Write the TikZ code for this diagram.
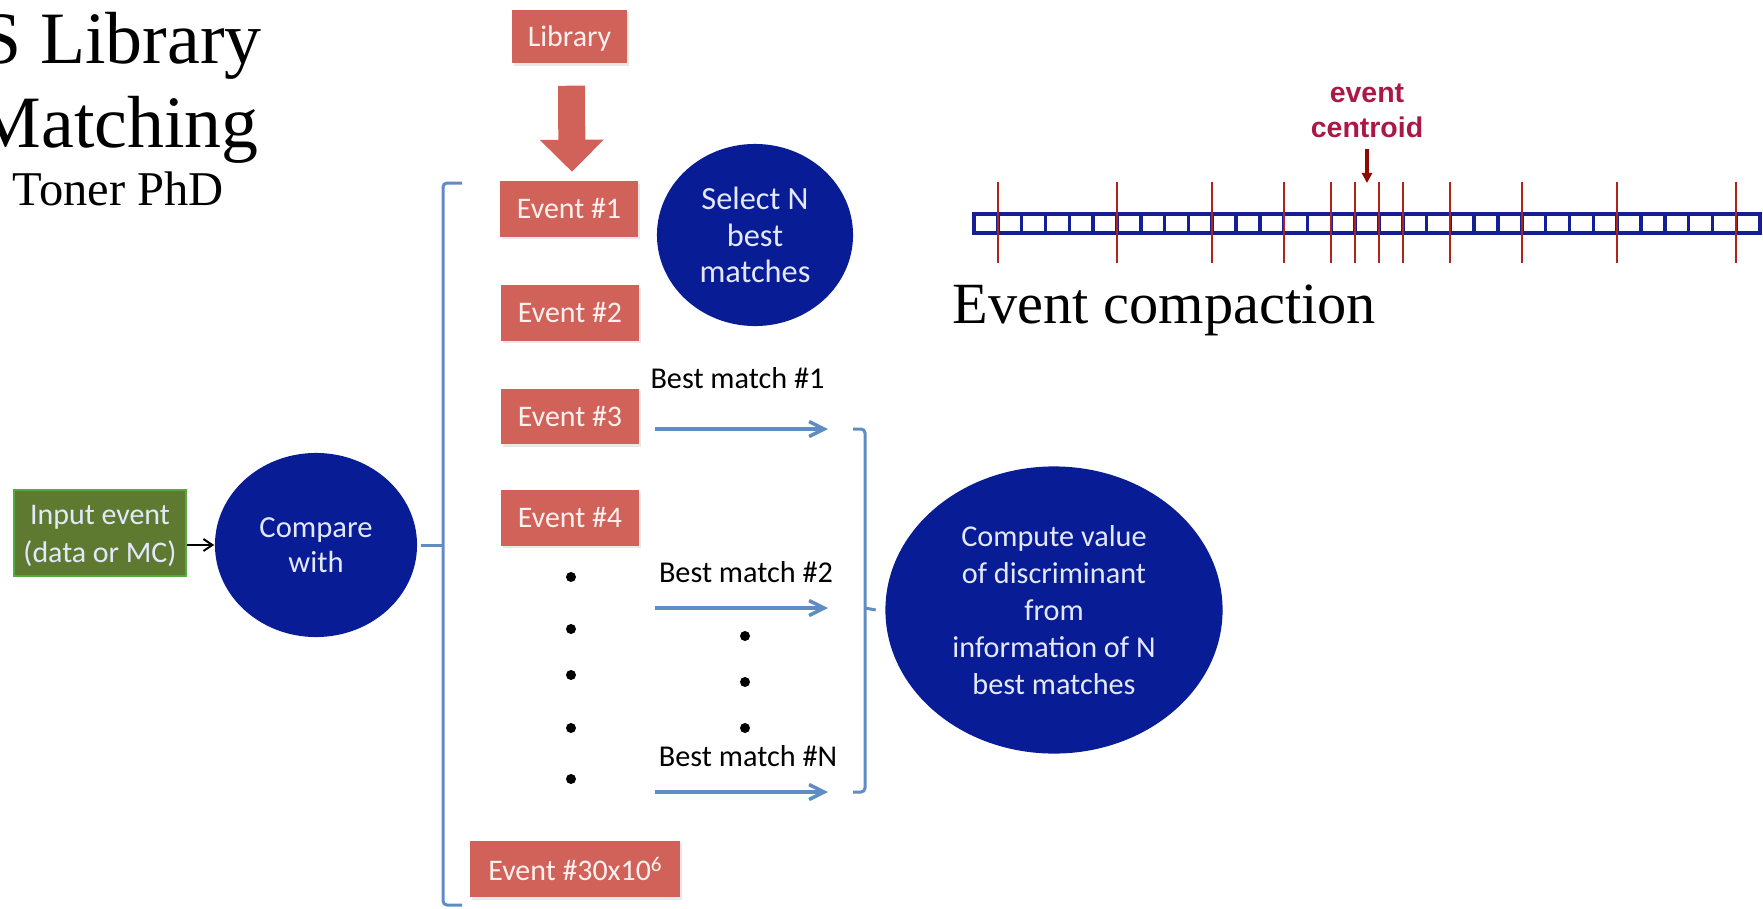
\documentclass[tikz,border=0pt]{standalone}
\usepackage{fontspec}
\setmainfont{Liberation Serif}
\setsansfont{Liberation Sans}
\newfontfamily\calib{Carlito}
\usetikzlibrary{shapes.geometric,arrows.meta,calc,shadows}
\definecolor{evred}{RGB}{208,98,90}
\definecolor{evtxt}{RGB}{255,242,238}
\definecolor{navy}{RGB}{8,28,150}
\definecolor{blobtxt}{RGB}{228,232,252}
\definecolor{olive}{RGB}{94,122,48}
\definecolor{oliveline}{RGB}{84,170,60}
\definecolor{steel}{RGB}{95,140,195}
\definecolor{stripblue}{RGB}{20,30,150}
\definecolor{tickred}{RGB}{175,35,25}
\definecolor{centr}{RGB}{170,25,70}
\definecolor{darkarrow}{RGB}{140,10,0}
\tikzset{
  evbox/.style={fill=evred,text=evtxt,minimum width=1.37cm,minimum height=0.55cm,inner sep=0pt,
    drop shadow={opacity=0.18,shadow xshift=0.02cm,shadow yshift=-0.025cm},
    font=\calib\fontsize{8.5}{10.5}\selectfont},
  blob/.style={ellipse,fill=navy,text=blobtxt,inner sep=0pt,align=center,
    font=\calib\fontsize{8.6}{10.5}\selectfont},
  lbl/.style={inner sep=0pt,font=\calib\fontsize{8.6}{10.5}\selectfont},
  brace/.style={draw=steel,line width=0.03cm,rounded corners=0.04cm},
  match/.style={steel,line width=0.035cm,-{Straight Barb[length=0.15cm,width=0.15cm]}},
  cell/.style={draw=stripblue,line width=0.035cm,fill=white},
  tick/.style={draw=tickred,line width=0.02cm}
}
\begin{document}
\begin{tikzpicture}[x=0.01cm,y=-0.01cm]
  \useasboundingbox (0,0) rectangle (1763,909);
  \begin{scope}[every node/.style={anchor=base west,inner sep=0pt}]
    \node[font=\fontsize{21}{25}\selectfont] (t1) at (-20,63) {S Library};
    \node[font=\fontsize{21}{25}\selectfont] (t2) at (-25,147) {Matching};
    \node[font=\fontsize{13.8}{16}\selectfont] (t3) at (12,205) {Toner PhD};
    \node[font=\fontsize{16.6}{20}\selectfont] (ec) at (952,323) {Event compaction};
  \end{scope}

  \node[evbox,minimum width=1.15cm,minimum height=0.53cm,text depth=0pt] (lib) at (569.5,36.5) {Library};
  \node[evbox] (ev1) at (569,209) {Event \#1};
  \node[evbox] (ev2) at (570,313) {Event \#2};
  \node[evbox,minimum width=1.38cm] (ev3) at (570,416.5) {Event \#3};
  \node[evbox,minimum width=1.38cm] (ev4) at (570,518) {Event \#4};
  \node[evbox,minimum width=2.09cm,minimum height=0.56cm] (evn) at (575,869) {Event \#30x10{\fontsize{6}{6}\selectfont\raisebox{0.9ex}{6}}};

  \node[fill=olive,draw=oliveline,line width=0.02cm,text=blobtxt,minimum width=1.72cm,minimum height=0.86cm,
    inner sep=0pt,align=center,font=\calib\fontsize{8.5}{10.8}\selectfont] (inp) at (100,533) {\\[-0.9ex]Input event\\(data or MC)};
  \node[blob,minimum width=2.02cm,minimum height=1.84cm,font=\calib\fontsize{8.7}{10}\selectfont] (cmp) at (316,545) {Compare\\with};
  \node[blob,minimum width=1.96cm,minimum height=1.82cm,font=\calib\fontsize{9.2}{10.4}\selectfont] (sel) at (755,235) {Select N\\best\\matches};
  \node[blob,minimum width=3.37cm,minimum height=2.87cm] (dsc) at (1054,610)
    {Compute value\\of discriminant\\from\\information of N\\best matches};

  \draw[evred,line width=0.27cm,-{Triangle[width=0.62cm,length=0.32cm]}]
    ($(lib.south)+(2,22)$) -- ($(ev1.north)+(3,-9)$);
  \draw[line width=0.02cm,-{Straight Barb[length=0.09cm,width=0.12cm]}] (inp.east |- cmp.west) -- (cmp.west);

  \coordinate (bt) at (462,183);
  \coordinate (bb) at (462,905);
  \coordinate (bm) at (443,545);
  \draw[brace] (bt) -| (bm) |- (bb);
  \draw[brace] (bm) -- ($(cmp.east)+(3,0)$);

  \foreach \y/\t/\lx/\ly in {429/1/737.5/388, 608/2/746/582, 792/N/748/766}{
    \coordinate (m\t s) at (655,\y);
    \coordinate (m\t e) at (828,\y);
    \draw[match] (m\t s) -- (m\t e);
    \node[lbl,anchor=base] (l\t) at (\lx,\ly) {Best match \#\t};
  }
  \coordinate (rt) at (853,429);
  \coordinate (rb) at (853,792);
  \coordinate (rm) at (865,608);
  \draw[brace] (rt) -| (rm) |- (rb);
  \draw[brace] (rm) -- ($(dsc.west)+(-9,0)$);

  \foreach \y in {577,629,675,728,779} \fill (571,\y) circle (0.05cm);
  \foreach \y in {636,682,728} \fill (745,\y) circle (0.05cm);

  \foreach \k in {0,...,32} \draw[cell] (974+\k*23.82,214) rectangle ++(23.82,19);
  \foreach \k in {1,6,10,13,15,16,17,18,20,23,27,32} \draw[tick] (974+\k*23.82,182) -- ++(0,81);
  \node[inner sep=0pt,align=center,text=centr,font=\sffamily\bfseries\fontsize{8.1}{9.96}\selectfont] (cen) at (1367,110.5) {event\\centroid};
  \coordinate (tip) at (1367,183);
  \draw[darkarrow,line width=0.045cm,-{Triangle[width=0.1cm,length=0.1cm]}] ($(cen.south)+(0,11)$) -- (tip);
\end{tikzpicture}
\end{document}
